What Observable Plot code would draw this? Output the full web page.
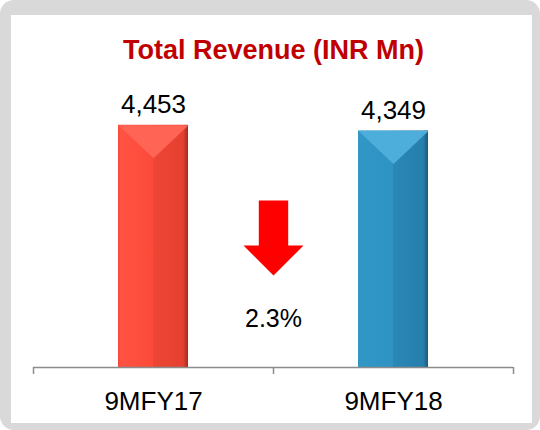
<!DOCTYPE html>
<html>
<head>
<meta charset="utf-8">
<script src="https://cdn.jsdelivr.net/npm/d3@7"></script>
<script src="https://cdn.jsdelivr.net/npm/@observablehq/plot@0.6"></script>
<style>
  html, body { margin: 0; padding: 0; background: #ffffff; }
  #wrap { position: relative; width: 540px; height: 430px; overflow: hidden; }
  #frame { position: absolute; left: 0; top: 0; width: 540px; height: 430px; background: #d9d9d9; border-radius: 14px; }
  #panel { position: absolute; left: 11px; top: 15px; width: 521px; height: 408px; background: #ffffff; }
  #chart { position: absolute; left: 0; top: 0; }
</style>
</head>
<body>
<div id="wrap">
  <div id="frame"></div>
  <div id="panel"></div>
  <div id="chart"></div>
</div>
<script>
const title = "Total Revenue (INR Mn)";
const categories = ["9MFY17", "9MFY18"];
const revenue = [4453, 4349];
const changeLabel = ["2.3%"];

const data = categories.map((c, i) => ({category: c, value: revenue[i], x1: i, x2: i + 1}));
const fmt = d3.format(",");

const gradients = [
  {id: "g0", stops: [[0, "#f24a3a"], [0.04, "#ff5242"], [0.5, "#fc4a3a"], [0.5, "#ee4535"], [0.93, "#e54130"], [1, "#a52a1f"]]},
  {id: "g1", stops: [[0, "#3596c4"], [0.04, "#3197c6"], [0.5, "#2e93c3"], [0.5, "#2a87b6"], [0.93, "#267fad"], [1, "#195a7c"]]}
];
const bevelColors = ["#ff6454", "#4eaedb"];

const arrowSymbol = {
  draw(ctx) {
    ctx.moveTo(-14.7, -37);
    ctx.lineTo(14.7, -37);
    ctx.lineTo(14.7, 8);
    ctx.lineTo(30, 8);
    ctx.lineTo(0, 38);
    ctx.lineTo(-30, 8);
    ctx.lineTo(-14.7, 8);
    ctx.closePath();
  }
};
const bevelSymbol = {
  draw(ctx) {
    ctx.moveTo(-35, 0);
    ctx.lineTo(35, 0);
    ctx.lineTo(0, 33);
    ctx.closePath();
  }
};

const font = "'Liberation Sans', Arial, Helvetica, sans-serif";

const marks = [];
data.forEach((d, i) => {
  marks.push(Plot.rectY([d], {x1: "x1", x2: "x2", y: "value", insetLeft: 85, insetRight: 85, fill: `url(#${gradients[i].id})`}));
  marks.push(Plot.dot([d], {x: (e) => e.x1 + 0.5, y: "value", symbol: bevelSymbol, r: 1, fill: bevelColors[i], stroke: null}));
});
marks.push(
  Plot.ruleY([0], {stroke: "#8c8c8c", strokeWidth: 1.5}),
  Plot.axisX({ticks: d3.range(categories.length + 1), tickSize: 7, tickFormat: () => "", stroke: "#8c8c8c", strokeWidth: 1.5}),
  Plot.text(data, {x: (d) => d.x1 + 0.5, y: "value", text: (d) => fmt(d.value), lineAnchor: "bottom", dy: -12, fontSize: 26, fill: "#000"}),
  Plot.text(data, {x: (d) => d.x1 + 0.5, y: () => 0, text: "category", lineAnchor: "bottom", dy: 42, fontSize: 26, fill: "#000"}),
  Plot.dot(changeLabel, {frameAnchor: "middle", dy: 6, symbol: arrowSymbol, r: 1, fill: "#ff0000", stroke: null}),
  Plot.text(changeLabel, {frameAnchor: "middle", text: (d) => d, lineAnchor: "bottom", dy: 95, fontSize: 25, fill: "#000"}),
  Plot.text([title], {frameAnchor: "top", text: (d) => d, lineAnchor: "bottom", dy: -37, fontSize: 27, fontWeight: "bold", fill: "#c00000"})
);

const chart = Plot.plot({
  width: 540,
  height: 430,
  marginLeft: 33,
  marginRight: 27,
  marginTop: 95,
  marginBottom: 63,
  x: {domain: [0, categories.length], axis: null},
  y: {domain: [0, 5000], axis: null},
  style: {background: "transparent", fontFamily: font, overflow: "visible"},
  marks
});

const defs = d3.select(chart).insert("defs", ":first-child");
gradients.forEach((g) => {
  const lg = defs.append("linearGradient").attr("id", g.id).attr("x1", "0").attr("x2", "1").attr("y1", "0").attr("y2", "0");
  g.stops.forEach(([o, c]) => lg.append("stop").attr("offset", o).attr("stop-color", c));
});

document.getElementById("chart").appendChild(chart);
</script>
</body>
</html>
